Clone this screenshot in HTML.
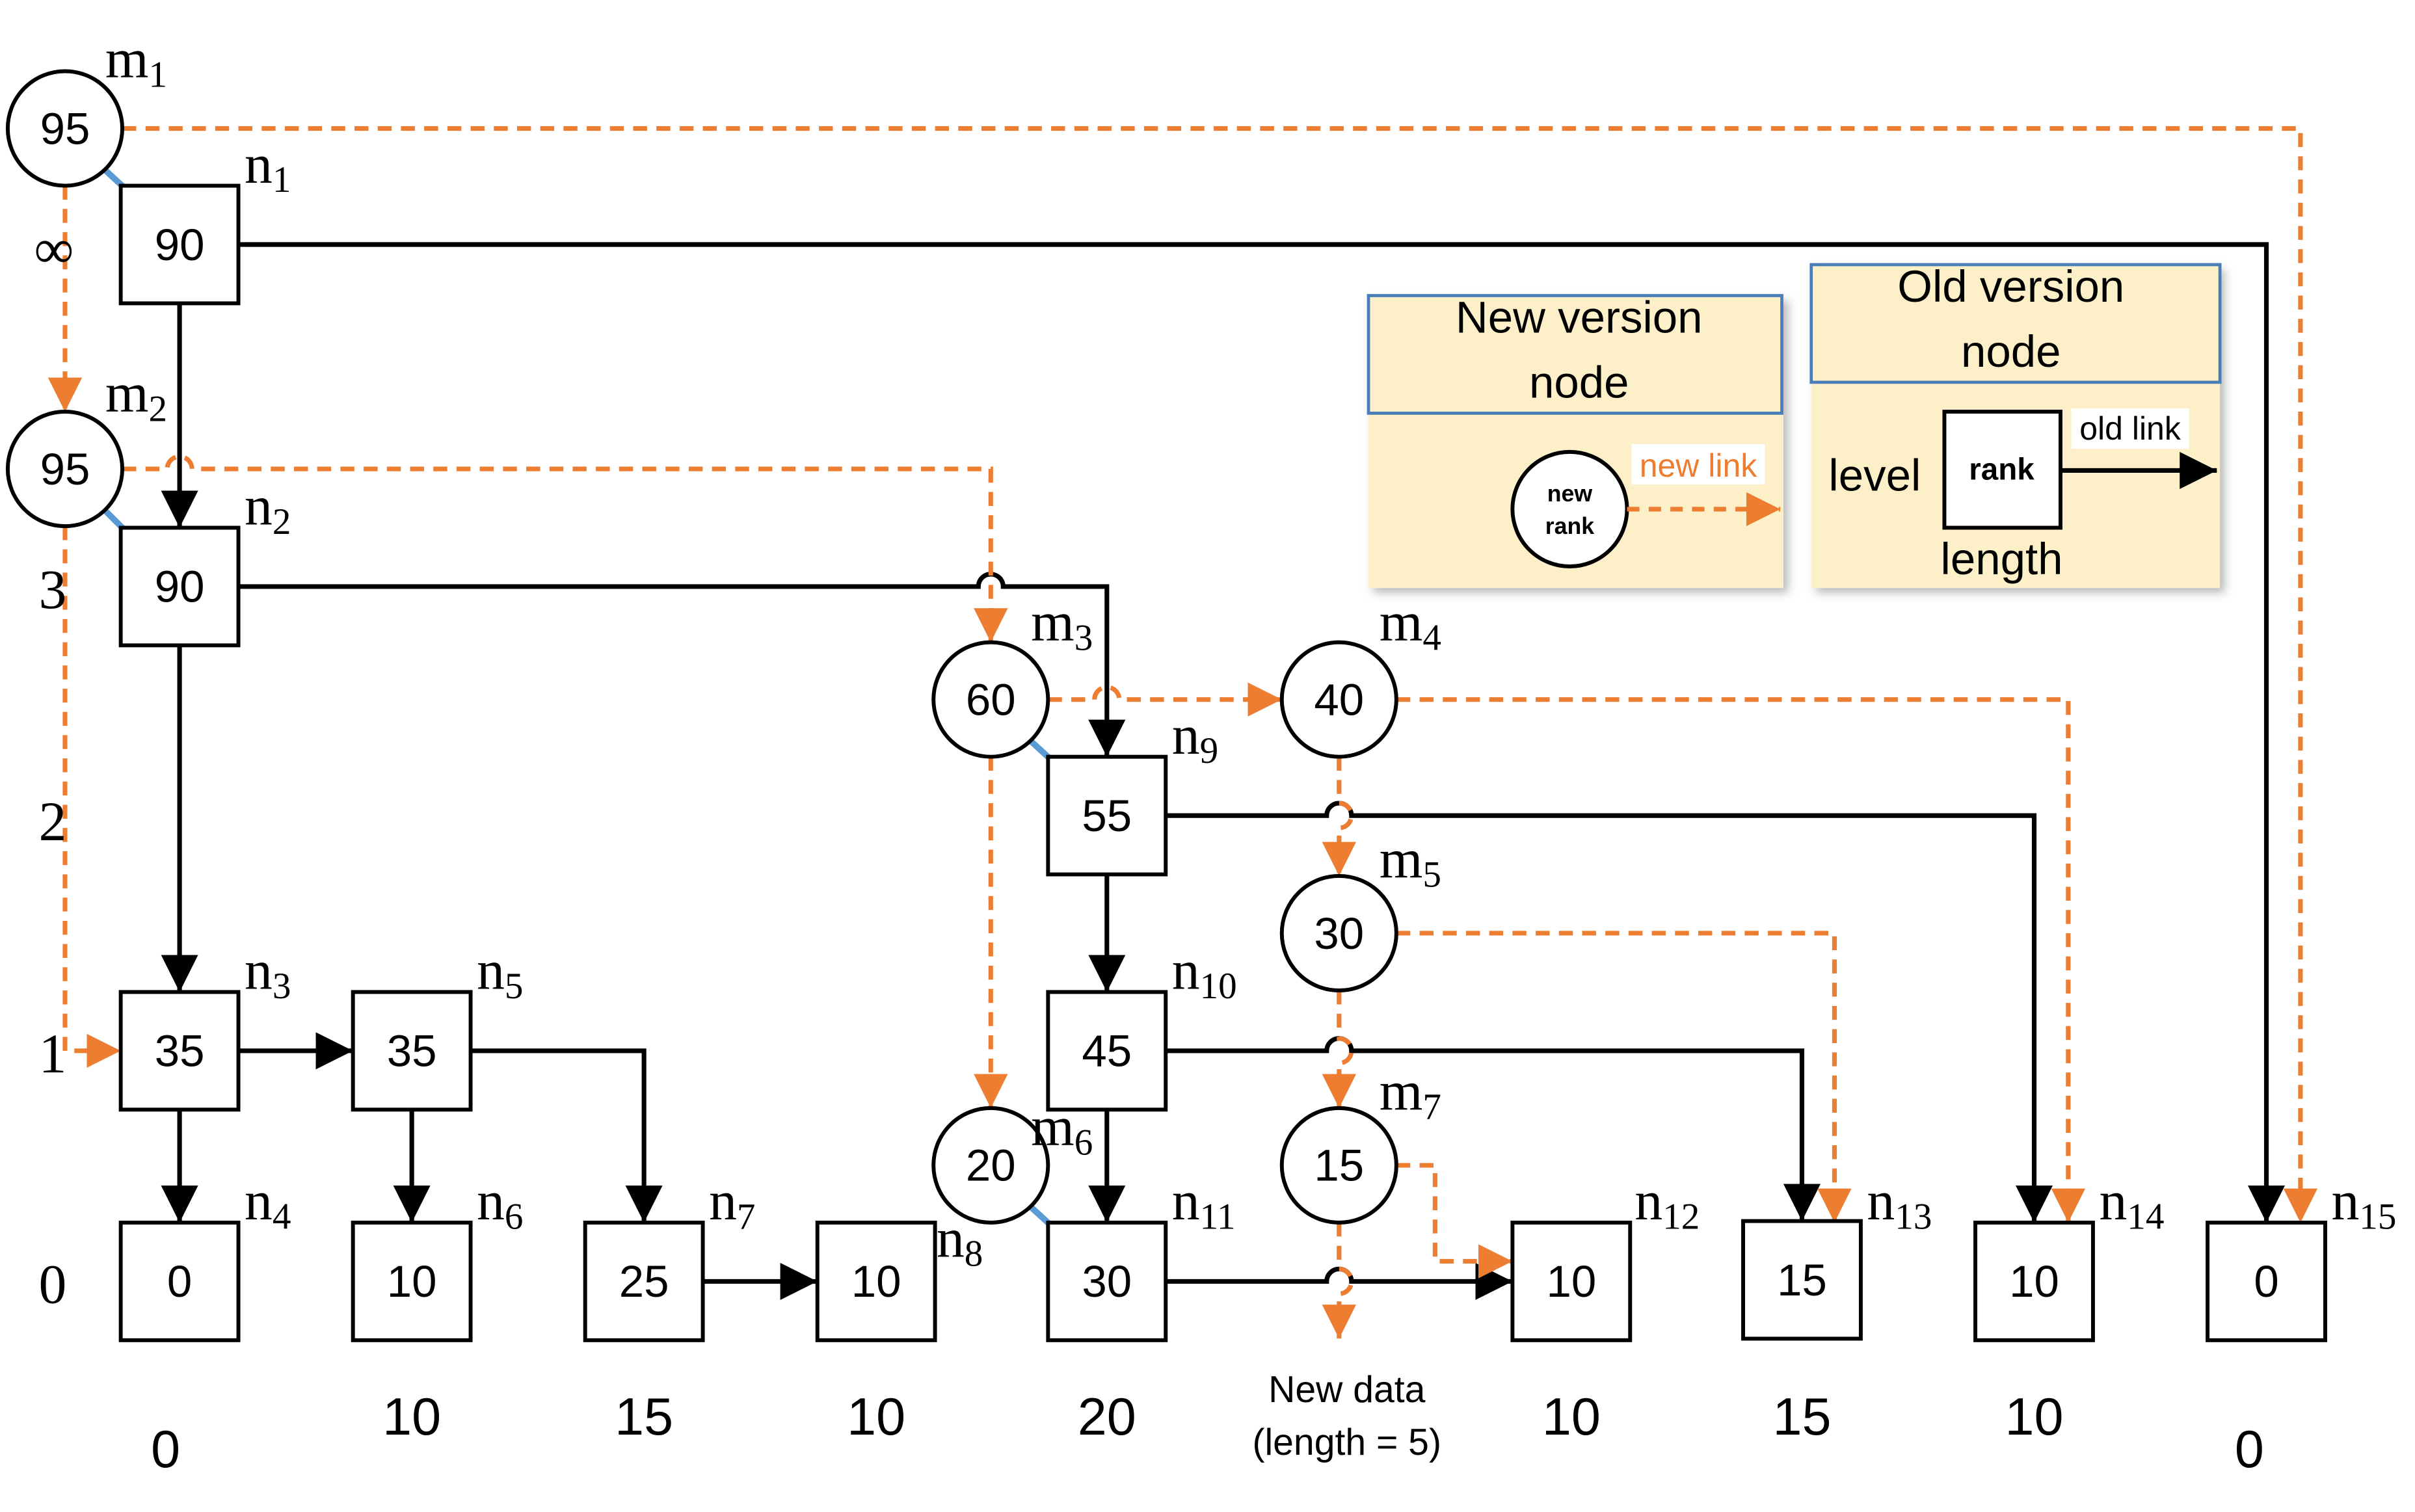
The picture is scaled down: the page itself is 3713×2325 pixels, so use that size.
<!DOCTYPE html>
<html><head><meta charset="utf-8"><style>
html,body{margin:0;padding:0;background:#fff;}
svg{display:block;}
.s{font-family:"Liberation Serif",serif;}
.a{font-family:"Liberation Sans",sans-serif;}
</style></head><body>
<svg width="3713" height="2325" viewBox="0 0 1560 977" preserveAspectRatio="none" xmlns="http://www.w3.org/2000/svg">
<defs>
<marker id="ab" markerWidth="8" markerHeight="8" refX="7" refY="4" orient="auto" markerUnits="userSpaceOnUse" viewBox="0 0 8 8"><path d="M0,0 L8,4 L0,8z" fill="#000"/></marker>
<marker id="ao" markerWidth="8" markerHeight="8" refX="7" refY="4" orient="auto" markerUnits="userSpaceOnUse" viewBox="0 0 8 8"><path d="M0,0 L8,4 L0,8z" fill="#ed7d31"/></marker>
<marker id="AB" viewBox="0 0 10 10" refX="10" refY="5" markerWidth="24" markerHeight="24" markerUnits="userSpaceOnUse" orient="auto"><path d="M0,0 L10,5 L0,10z" fill="#000"/></marker>
<marker id="AO" viewBox="0 0 10 10" refX="10" refY="5" markerWidth="22" markerHeight="22" markerUnits="userSpaceOnUse" orient="auto"><path d="M0,0 L10,5 L0,10z" fill="#ed7d31"/></marker>
<filter id="sh"><feDropShadow dx="3" dy="3" stdDeviation="3" flood-color="#888" flood-opacity="0.6"/></filter>
</defs>

<!-- legend -->
<g filter="url(#sh)">
<rect x="884" y="191" width="268" height="189" fill="#fdf0c9"/>
<rect x="1170" y="171" width="264" height="209" fill="#fdf0c9"/>
</g>
<rect x="884" y="191" width="267" height="76" fill="none" stroke="#4a7ebb" stroke-width="2"/>
<rect x="1170" y="171" width="264" height="76" fill="none" stroke="#4a7ebb" stroke-width="2"/>
<text class="a" x="1020" y="215" font-size="29" text-anchor="middle">New version</text>
<text class="a" x="1020" y="257" font-size="29" text-anchor="middle">node</text>
<text class="a" x="1299" y="195" font-size="29" text-anchor="middle">Old version</text>
<text class="a" x="1299" y="237" font-size="29" text-anchor="middle">node</text>
<circle cx="1014" cy="329" r="37" fill="#fff" stroke="#000" stroke-width="2.5"/>
<text class="a" x="1014" y="324" font-size="15" font-weight="bold" text-anchor="middle">new</text>
<text class="a" x="1014" y="345" font-size="15" font-weight="bold" text-anchor="middle">rank</text>
<rect x="1054" y="287" width="86" height="26" fill="#fff"/>
<text class="a" x="1097" y="308" font-size="21" fill="#ed7d31" text-anchor="middle">new link</text>
<line x1="1051" y1="329" x2="1150" y2="329" stroke="#ed7d31" stroke-width="3" stroke-dasharray="8,6" marker-end="url(#AO)"/>
<rect x="1256" y="266" width="75" height="75" fill="#fff" stroke="#000" stroke-width="2.5"/>
<text class="a" x="1293" y="310" font-size="20" font-weight="bold" text-anchor="middle">rank</text>
<text class="a" x="1211" y="317" font-size="29" text-anchor="middle">level</text>
<text class="a" x="1293" y="371" font-size="29" text-anchor="middle">length</text>
<rect x="1338" y="264" width="76" height="26" fill="#fff"/>
<text class="a" x="1376" y="284" font-size="21" text-anchor="middle">old link</text>
<line x1="1331" y1="304" x2="1432" y2="304" stroke="#000" stroke-width="3" marker-end="url(#AB)"/>

<!-- black links -->
<g stroke="#000" stroke-width="3" fill="none">
<path d="M154,158 H1464 V790" marker-end="url(#AB)"/>
<path d="M116,196 V341" marker-end="url(#AB)"/>
<path d="M154,379 H632 a8,8 0 0 1 16,0 H715 V489" marker-end="url(#AB)"/>
<path d="M116,417 V641" marker-end="url(#AB)"/>
<path d="M154,679 H228" marker-end="url(#AB)"/>
<path d="M116,717 V790" marker-end="url(#AB)"/>
<path d="M266,717 V790" marker-end="url(#AB)"/>
<path d="M304,679 H416 V790" marker-end="url(#AB)"/>
<path d="M454,828 H528" marker-end="url(#AB)"/>
<path d="M753,527 H857 a8,8 0 0 1 16,0 H1314 V790" marker-end="url(#AB)"/>
<path d="M715,565 V641" marker-end="url(#AB)"/>
<path d="M753,679 H857 a8,8 0 0 1 16,0 H1164 V789" marker-end="url(#AB)"/>
<path d="M715,717 V790" marker-end="url(#AB)"/>
<path d="M753,828 H857 a8,8 0 0 1 16,0 H977" marker-end="url(#AB)"/>
</g>

<!-- orange dashed links -->
<g stroke="#ed7d31" stroke-width="3" fill="none" stroke-dasharray="9,6">
<path d="M79,83 H1486 V790" marker-end="url(#AO)"/>
<path d="M42,120 V266" marker-end="url(#AO)"/>
<path d="M79,303 H108 a8,8 0 0 1 16,0 H640 V415" marker-end="url(#AO)"/>
<path d="M42,340 V679 H78" marker-end="url(#AO)"/>
<path d="M677,452 H707 a8,8 0 0 1 16,0 H828" marker-end="url(#AO)"/>
<path d="M640,489 V716" marker-end="url(#AO)"/>
<path d="M902,452 H1336 V790" marker-end="url(#AO)"/>
<path d="M865,489 V519 a8,8 0 0 1 0,16 V566" marker-end="url(#AO)"/>
<path d="M902,603 H1185 V790" marker-end="url(#AO)"/>
<path d="M865,640 V671 a8,8 0 0 1 0,16 V716" marker-end="url(#AO)"/>
<path d="M902,753 H927 V815 H977" marker-end="url(#AO)"/>
<path d="M865,790 V820 a8,8 0 0 1 0,16 V865" marker-end="url(#AO)"/>
</g>

<!-- blue connectors -->
<g stroke="#5b9bd5" stroke-width="4">
<line x1="68" y1="110" x2="80" y2="121"/>
<line x1="68" y1="330" x2="80" y2="342"/>
<line x1="666" y1="479" x2="678" y2="490"/>
<line x1="666" y1="780" x2="678" y2="791"/>
</g>

<!-- circles -->
<g stroke="#000" stroke-width="2.5" fill="#fff">
<circle cx="42" cy="83" r="37"/><circle cx="42" cy="303" r="37"/>
<circle cx="640" cy="452" r="37"/><circle cx="865" cy="452" r="37"/>
<circle cx="865" cy="603" r="37"/><circle cx="640" cy="753" r="37"/>
<circle cx="865" cy="753" r="37"/>
</g>
<!-- boxes -->
<g stroke="#000" stroke-width="2.5" fill="#fff">
<rect x="78" y="120" width="76" height="76"/><rect x="78" y="341" width="76" height="76"/>
<rect x="78" y="641" width="76" height="76"/><rect x="228" y="641" width="76" height="76"/>
<rect x="78" y="790" width="76" height="76"/><rect x="228" y="790" width="76" height="76"/>
<rect x="378" y="790" width="76" height="76"/><rect x="528" y="790" width="76" height="76"/>
<rect x="677" y="489" width="76" height="76"/><rect x="677" y="641" width="76" height="76"/>
<rect x="677" y="790" width="76" height="76"/><rect x="977" y="790" width="76" height="76"/>
<rect x="1126" y="789" width="76" height="76"/><rect x="1276" y="790" width="76" height="76"/>
<rect x="1426" y="790" width="76" height="76"/>
</g>

<g class="a" font-size="29" text-anchor="middle">
<text x="42" y="93">95</text><text x="42" y="313">95</text>
<text x="640" y="462">60</text><text x="865" y="462">40</text>
<text x="865" y="613">30</text><text x="640" y="763">20</text><text x="865" y="763">15</text>
<text x="116" y="168">90</text><text x="116" y="389">90</text>
<text x="116" y="689">35</text><text x="266" y="689">35</text>
<text x="116" y="838">0</text><text x="266" y="838">10</text><text x="416" y="838">25</text><text x="566" y="838">10</text>
<text x="715" y="537">55</text><text x="715" y="689">45</text><text x="715" y="838">30</text>
<text x="1015" y="838">10</text><text x="1164" y="837">15</text><text x="1314" y="838">10</text><text x="1464" y="838">0</text>
</g>

<g class="a" font-size="34" text-anchor="middle">
<text x="107" y="948">0</text><text x="266" y="927">10</text><text x="416" y="927">15</text>
<text x="566" y="927">10</text><text x="715" y="927">20</text><text x="1015" y="927">10</text>
<text x="1164" y="927">15</text><text x="1314" y="927">10</text><text x="1453" y="948">0</text>
</g>
<g class="a" font-size="24" text-anchor="middle">
<text x="870" y="906">New data</text><text x="870" y="940">(length = 5)</text>
</g>

<g class="s" font-size="36">
<text x="22" y="173">∞</text><text x="25" y="393">3</text><text x="25" y="543">2</text>
<text x="25" y="693">1</text><text x="25" y="842">0</text>
</g>

<g class="s" font-size="36">
<text x="68" y="50">m<tspan font-size="24" dy="6">1</tspan></text>
<text x="158" y="118">n<tspan font-size="24" dy="6">1</tspan></text>
<text x="68" y="266">m<tspan font-size="24" dy="6">2</tspan></text>
<text x="158" y="339">n<tspan font-size="24" dy="6">2</tspan></text>
<text x="158" y="639">n<tspan font-size="24" dy="6">3</tspan></text>
<text x="308" y="639">n<tspan font-size="24" dy="6">5</tspan></text>
<text x="158" y="788">n<tspan font-size="24" dy="6">4</tspan></text>
<text x="308" y="788">n<tspan font-size="24" dy="6">6</tspan></text>
<text x="458" y="788">n<tspan font-size="24" dy="6">7</tspan></text>
<text x="605" y="812">n<tspan font-size="24" dy="6">8</tspan></text>
<text x="666" y="414">m<tspan font-size="24" dy="6">3</tspan></text>
<text x="891" y="414">m<tspan font-size="24" dy="6">4</tspan></text>
<text x="891" y="567">m<tspan font-size="24" dy="6">5</tspan></text>
<text x="666" y="740">m<tspan font-size="24" dy="6">6</tspan></text>
<text x="891" y="717">m<tspan font-size="24" dy="6">7</tspan></text>
<text x="757" y="487">n<tspan font-size="24" dy="6">9</tspan></text>
<text x="757" y="639">n<tspan font-size="24" dy="6">10</tspan></text>
<text x="757" y="788">n<tspan font-size="24" dy="6">11</tspan></text>
<text x="1056" y="788">n<tspan font-size="24" dy="6">12</tspan></text>
<text x="1206" y="788">n<tspan font-size="24" dy="6">13</tspan></text>
<text x="1356" y="788">n<tspan font-size="24" dy="6">14</tspan></text>
<text x="1506" y="788">n<tspan font-size="24" dy="6">15</tspan></text>
</g>
</svg>
</body></html>
